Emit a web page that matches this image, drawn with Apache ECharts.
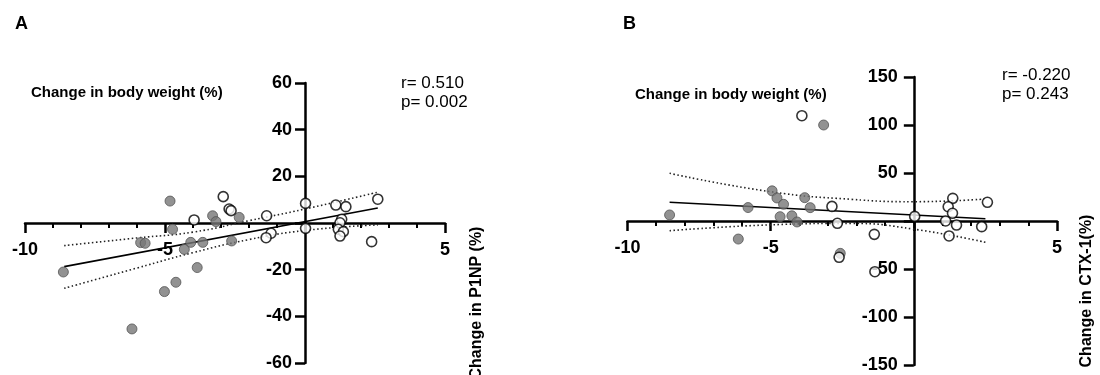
<!DOCTYPE html>
<html>
<head>
<meta charset="utf-8">
<script src="https://cdn.jsdelivr.net/npm/echarts@6/dist/echarts.min.js"></script>
<style>html,body{margin:0;padding:0;background:#fff}#c{width:1100px;height:375px}</style>
</head>
<body>
<div id="c"></div>
<script>
// ---- Panel A data (x: change in body weight %, y: change in P1NP %) ----
const aGrayX = [-8.63, -4.82, -4.73, -5.87, -5.71, -5.02, -4.61, -6.18, -4.31, -4.08, -3.65, -3.85, -3.30, -3.18, -2.35, -2.62];
const aGrayY = [-21.0, 9.4, -2.7, -8.4, -8.7, -29.4, -25.4, -45.4, -11.3, -8.3, -8.3, -19.1, 3.1, 0.6, 2.4, -7.7];
const aOpenX = [-3.96, -2.92, -2.71, -2.64, -1.37, -1.21, -1.39, 0.02, 0.02, 1.10, 1.46, 2.60, 1.31, 1.25, 1.19, 1.37, 1.25, 2.38];
const aOpenY = [1.3, 11.3, 6.0, 5.3, 3.1, -4.4, -6.3, 8.4, -2.3, 7.7, 7.0, 10.2, 1.6, 0.1, -2.7, -3.7, -5.6, -8.0];
const aFitX = [-8.6, 2.6];
const aFitY = [-18.7, 6.4];
const aBandX = [-8.6, -6, -4, -2, 0, 2.6];
const aBandUp = [-9.7, -6.4, -3.9, 1.0, 6.0, 13.2];
const aBandLo = [-28.0, -19.3, -12.7, -7.1, -3.2, -0.8];

// ---- Panel B data (x: change in body weight %, y: change in CTX-1 %) ----
const bGrayX = [-8.53, -6.13, -5.79, -4.95, -4.78, -4.55, -4.67, -4.26, -4.08, -3.81, -3.62, -3.15, -2.57];
const bGrayY = [6.3, -18.8, 14.0, 31.4, 24.0, 17.4, 4.5, 5.4, -1.0, 24.3, 13.9, 100.0, -33.7];
const bOpenX = [-3.91, -2.86, -2.67, -2.61, -1.38, -1.36, 0.03, 1.36, 1.20, 1.35, 1.11, 1.49, 1.23, 2.37, 2.57];
const bOpenY = [109.7, 15.2, -2.4, -37.8, -13.9, -52.8, 4.8, 23.6, 14.9, 8.0, 0.0, -4.2, -15.6, -5.9, 19.5];
const bFitX = [-8.53, 2.5];
const bFitY = [19.5, 2.4];
const bBandX = [-8.53, -5, -2.2, 0, 2.5];
const bBandUp = [49.7, 30.5, 22.6, 20.1, 22.9];
const bBandLo = [-10.1, -4.0, -2.5, -8.5, -22.2];

// ---- Axis settings ----
const xMin = -10, xMax = 5, xStep = 5;
const aYMin = -60, aYMax = 60, aYStep = 20;
const bYMin = -150, bYMax = 150, bYStep = 50;

const FONT = '"Liberation Sans", Arial, sans-serif';
const zip = (xs, ys) => xs.map((x, i) => [x, ys[i]]);
const hideZero = v => (v === 0 ? '' : String(v));

// grid layout
const gA = { left: 25, top: 83, width: 420, height: 280 };
const gB = { left: 627.5, top: 77, width: 429.5, height: 288 };

// offset that moves an axis from the grid edge onto the other axis' zero
const zeroShift = (size, mn, mx) => size * (0 - mn) / (mx - mn);

function xAxisDef(gi, g, yMn, yMx) {
  return {
    type: 'value', gridIndex: gi, min: xMin, max: xMax, interval: xStep,
    position: 'bottom', offset: -zeroShift(g.height, yMn, yMx),
    axisLine: { show: true, onZero: false, lineStyle: { color: '#000', width: 2.5 } },
    axisTick: { show: true, length: 10, lineStyle: { color: '#000', width: 2.5 } },
    minorTick: { show: true, splitNumber: 5, length: 5, lineStyle: { color: '#000', width: 2 } },
    splitLine: { show: false }, minorSplitLine: { show: false },
    axisLabel: { formatter: hideZero, color: '#000', fontFamily: FONT, fontWeight: 'bold', fontSize: 18, margin: 18,
                 showMinLabel: true, showMaxLabel: true }
  };
}
function yAxisDef(gi, g, mn, mx, st, margin) {
  return {
    type: 'value', gridIndex: gi, min: mn, max: mx, interval: st,
    position: 'left', offset: -zeroShift(g.width, xMin, xMax),
    axisLine: { show: true, onZero: false, lineStyle: { color: '#000', width: 2.5 } },
    axisTick: { show: true, length: 10, lineStyle: { color: '#000', width: 2.5 } },
    splitLine: { show: false },
    axisLabel: { formatter: hideZero, color: '#000', fontFamily: FONT, fontWeight: 'bold', fontSize: 18, margin: margin,
                 showMinLabel: true, showMaxLabel: true }
  };
}
const grayStyle = { color: '#777777', borderColor: '#555555', borderWidth: 1 };
const openStyle = { color: '#ffffff', borderColor: '#000000', borderWidth: 1.6 };

function panelSeries(gi, gx, gy, ox, oy, fx, fy, bx, bu, bl) {
  return [
    { type: 'line', xAxisIndex: gi, yAxisIndex: gi, data: zip(bx, bu), smooth: true, symbol: 'none',
      lineStyle: { color: '#222', width: 1.6, type: [1.5, 2.5] }, z: 2, silent: true },
    { type: 'line', xAxisIndex: gi, yAxisIndex: gi, data: zip(bx, bl), smooth: true, symbol: 'none',
      lineStyle: { color: '#222', width: 1.6, type: [1.5, 2.5] }, z: 2, silent: true },
    { type: 'line', xAxisIndex: gi, yAxisIndex: gi, data: zip(fx, fy), symbol: 'none',
      lineStyle: { color: '#000', width: 1.6 }, z: 3, silent: true },
    { type: 'scatter', xAxisIndex: gi, yAxisIndex: gi, data: zip(gx, gy), symbolSize: 10,
      itemStyle: grayStyle, z: 4 },
    { type: 'scatter', xAxisIndex: gi, yAxisIndex: gi, data: zip(ox, oy), symbolSize: 10,
      itemStyle: openStyle, z: 5 }
  ];
}

function txt(x, y, s, size, bold, extra) {
  return Object.assign({
    type: 'text', x: x, y: y, silent: true,
    style: { text: s, fill: '#000', font: (bold ? 'bold ' : '') + size + 'px ' + FONT,
             textAlign: 'left', textVerticalAlign: 'middle' }
  }, extra || {});
}

const chart = echarts.init(document.getElementById('c'), null, { renderer: 'canvas' });
chart.setOption({
  animation: false,
  backgroundColor: '#fff',
  grid: [
    Object.assign({ containLabel: false, outerBoundsMode: 'none' }, gA),
    Object.assign({ containLabel: false, outerBoundsMode: 'none' }, gB)
  ],
  xAxis: [xAxisDef(0, gA, aYMin, aYMax), xAxisDef(1, gB, bYMin, bYMax)],
  yAxis: [yAxisDef(0, gA, aYMin, aYMax, aYStep, 13), yAxisDef(1, gB, bYMin, bYMax, bYStep, 16)],
  series: [].concat(
    panelSeries(0, aGrayX, aGrayY, aOpenX, aOpenY, aFitX, aFitY, aBandX, aBandUp, aBandLo),
    panelSeries(1, bGrayX, bGrayY, bOpenX, bOpenY, bFitX, bFitY, bBandX, bBandUp, bBandLo)
  ),
  graphic: [
    txt(15, 24, 'A', 18, true),
    txt(31, 93, 'Change in body weight (%)', 15, true),
    txt(401, 83, 'r= 0.510', 17, false),
    txt(401, 102, 'p= 0.002', 17, false),
    { type: 'text', x: 477, y: 303, rotation: Math.PI / 2, silent: true,
      style: { text: 'Change in P1NP (%)', fill: '#000', font: 'bold 16px ' + FONT, textAlign: 'center', textVerticalAlign: 'middle' } },
    txt(623, 24, 'B', 18, true),
    txt(635, 95, 'Change in body weight (%)', 15, true),
    txt(1002, 75, 'r= -0.220', 17, false),
    txt(1002, 94, 'p= 0.243', 17, false),
    { type: 'text', x: 1087, y: 291, rotation: Math.PI / 2, silent: true,
      style: { text: 'Change in CTX-1(%)', fill: '#000', font: 'bold 16px ' + FONT, textAlign: 'center', textVerticalAlign: 'middle' } }
  ]
});
</script>
</body>
</html>
